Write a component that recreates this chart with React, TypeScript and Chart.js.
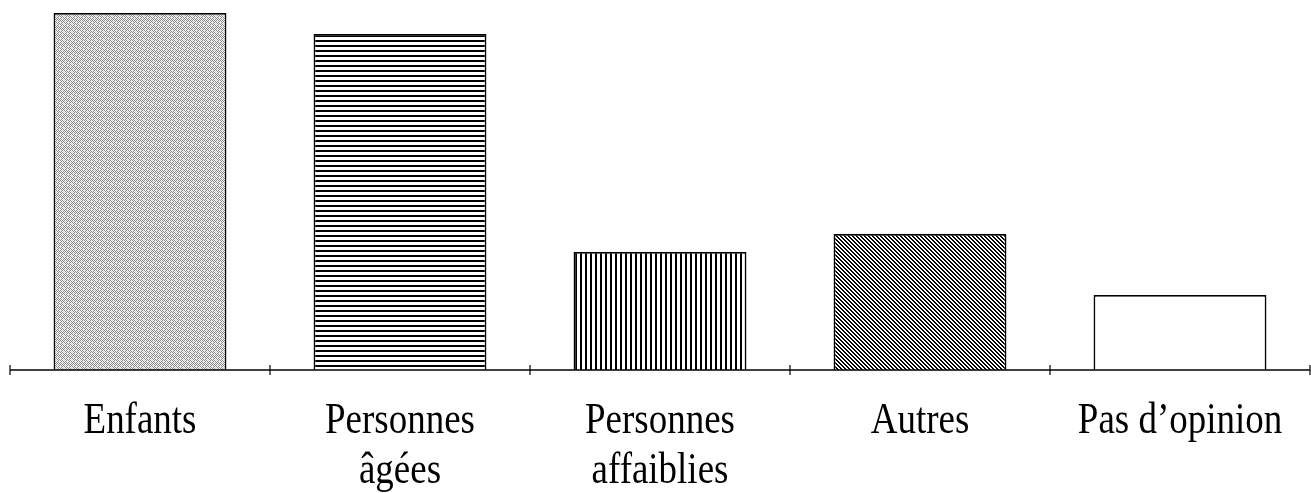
import React, { useEffect, useRef } from "react";
import { Chart, registerables } from "chart.js";

Chart.register(...registerables);

const categories: string[][] = [
  ["Enfants"],
  ["Personnes", "âgées"],
  ["Personnes", "affaiblies"],
  ["Autres"],
  ["Pas d’opinion"],
];
const values: number[] = [35.7, 33.6, 11.8, 13.6, 7.5];
const yMax = 36;

function makePattern(kind: string): CanvasPattern | string {
  const c = document.createElement("canvas");
  const g = c.getContext("2d")!;
  if (kind === "stipple") {
    c.width = 8; c.height = 8;
    g.fillStyle = "#f2f2f2"; g.fillRect(0, 0, 8, 8);
    for (let y = 0; y < 8; y++) for (let x = 0; x < 8; x++) {
      if ((x + y) % 2 === 0) { g.fillStyle = (x * 3 + y * 5) % 7 === 0 ? "#d0d0d0" : "#8a8a8a"; g.fillRect(x, y, 1, 1); }
    }
  } else if (kind === "hlines") {
    c.width = 5; c.height = 5;
    g.fillStyle = "#fff"; g.fillRect(0, 0, 5, 5);
    g.fillStyle = "#000"; g.fillRect(0, 0, 5, 2);
  } else if (kind === "vlines") {
    c.width = 5; c.height = 5;
    g.fillStyle = "#fff"; g.fillRect(0, 0, 5, 5);
    g.fillStyle = "#000"; g.fillRect(0, 0, 2, 5);
  } else if (kind === "diag") {
    c.width = 4; c.height = 4;
    g.fillStyle = "#fff"; g.fillRect(0, 0, 4, 4);
    g.fillStyle = "#000";
    for (let y = 0; y < 4; y++) for (let x = 0; x < 4; x++) {
      const d = ((x - y) % 4 + 4) % 4;
      if (d === 0 || d === 1) g.fillRect(x, y, 1, 1);
    }
  } else {
    return "#ffffff";
  }
  return g.createPattern(c, "repeat")!;
}

const axisPlugin = {
  id: "axisAndLabels",
  afterDatasetsDraw(chart: any) {
    const ctx: CanvasRenderingContext2D = chart.ctx;
    const xs = chart.scales.x;
    const area = chart.chartArea;
    const y0 = chart.scales.y.getPixelForValue(0);
    ctx.save();
    ctx.strokeStyle = "#000";
    ctx.lineWidth = 1.5;
    ctx.beginPath();
    ctx.moveTo(area.left, y0);
    ctx.lineTo(area.right, y0);
    ctx.stroke();
    const step = xs.getPixelForValue(1) - xs.getPixelForValue(0);
    ctx.lineWidth = 1.2;
    for (let i = 0; i <= categories.length; i++) {
      const px = xs.getPixelForValue(0) - step / 2 + i * step;
      ctx.beginPath();
      ctx.moveTo(px, y0 - 5);
      ctx.lineTo(px, y0 + 5);
      ctx.stroke();
    }
    ctx.fillStyle = "#000";
    ctx.font = "44px 'Liberation Serif', serif";
    ctx.textAlign = "center";
    ctx.textBaseline = "alphabetic";
    const baselines = [433, 483];
    categories.forEach((lines, i) => {
      const cx = xs.getPixelForValue(i);
      lines.forEach((t, j) => {
        ctx.save();
        ctx.translate(cx, baselines[j]);
        ctx.scale(0.84, 1);
        ctx.fillText(t, 0, 0);
        ctx.restore();
      });
    });
    ctx.restore();
  },
};

export default function App() {
  const ref = useRef<HTMLCanvasElement>(null);
  useEffect(() => {
    const fills = [
      makePattern("stipple"),
      makePattern("hlines"),
      makePattern("vlines"),
      makePattern("diag"),
      makePattern("none"),
    ];
    const chart = new Chart(ref.current!, {
      type: "bar",
      data: {
        labels: categories.map((l) => l.join(" ")),
        datasets: [
          {
            data: values,
            backgroundColor: fills as any,
            borderColor: "#000",
            borderWidth: 1.8,
            borderSkipped: "bottom",
            barPercentage: 0.665,
            categoryPercentage: 1,
          },
        ],
      },
      options: {
        animation: false,
        responsive: true,
        maintainAspectRatio: false,
        layout: { padding: { top: 10, bottom: 123, left: 10, right: 1 } },
        plugins: { legend: { display: false }, tooltip: { enabled: false } },
        scales: {
          x: { display: false, grid: { display: false } },
          y: { display: false, min: 0, max: yMax },
        },
      },
      plugins: [axisPlugin],
    });
    return () => chart.destroy();
  }, []);
  return (
    <div style={{ position: "fixed", left: 0, top: 0, width: 1311, height: 493, background: "#fff" }}>
      <canvas ref={ref} />
    </div>
  );
}
